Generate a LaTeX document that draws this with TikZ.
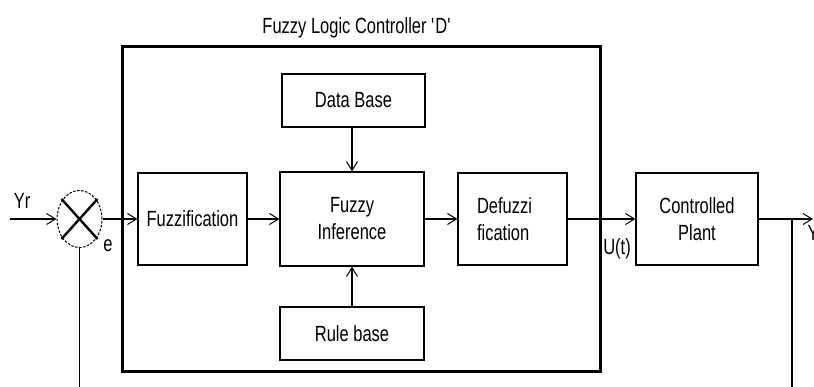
\documentclass[tikz,border=0pt]{standalone}
\usepackage{fontspec}
\setmainfont{Liberation Sans}[FakeStretch=0.75]
\usetikzlibrary{arrows.meta,shapes.geometric}
\begin{document}
\begin{tikzpicture}[x=1pt,y=-1pt,
  line width=1.1pt,
  txt/.style={font=\fontsize{22}{27}\selectfont},
  box/.style={draw, line width=1.1pt, inner sep=0pt, align=center, txt},
  lbl/.style={inner sep=0pt, txt},
  arr/.style={-{Straight Barb[length=9pt,width=11pt,line width=1pt]}},
]
\useasboundingbox (0,0) rectangle (814,387);
\fill[white] (0,0) rectangle (814,387);

% outer controller box
\node[draw, line width=3pt, minimum width=478pt, minimum height=324pt, inner sep=0pt] (flc) at (361,209) {};
\node[lbl] (title) at (357,28) {Fuzzy Logic Controller \textquotesingle D\textquotesingle};

% blocks
\node[box, minimum width=143pt, minimum height=53pt] (db) at (353.5,100.5) {Data Base};
\node[box, minimum width=144pt, minimum height=94pt] (fi) at (352,219) {Fuzzy\\Inference};
\node[box, minimum width=109pt, minimum height=92pt, align=left, inner xsep=19pt, text width=71pt] (df) at (512.5,219) {Defuzzi\\fication};
\node[box, minimum width=144pt, minimum height=53pt] (rb) at (352,333.5) {Rule base};
\node[box, minimum width=109pt, minimum height=92pt] (fz) at (192.5,219) {Fuzzification};
\node[box, minimum width=122pt, minimum height=92pt] (pl) at (697,219) {Controlled\\Plant};

% summing junction
\node[draw, ellipse, dashed, dash pattern=on 2.5pt off 1.5pt, line width=1pt, minimum width=45pt, minimum height=57pt, inner sep=0pt] (sum) at (79.5,219) {};
\draw[line width=2.4pt] (61.5,199) -- (97.5,239);
\draw[line width=2.4pt] (61.5,239) -- (97.5,199);

% coordinates
\coordinate (yrin) at (10,219);
\coordinate (outend) at (813,219);
\coordinate (tap) at (792,219);
\coordinate (fb1) at (79.5,392);
\coordinate (fb2) at (792,392);

% connectors
\draw[arr] (yrin) -- (sum.west);
\draw[arr] (sum.east) -- (fz.west);
\draw[arr] (fz.east) -- (fi.west);
\draw[arr] (fi.east) -- (df.west);
\draw[arr] (df.east) -- (pl.west);
\draw[arr] (pl.east) -- (outend);
\draw[arr] (db.south -| fi.north) -- (fi.north);
\draw[arr] (rb.north) -- (fi.south);
\draw (sum.south) -- (fb1);
\draw (tap) -- (fb2);

% labels
\node[lbl] (yr) at (22,201) {Yr};
\node[lbl] (e) at (108,246) {e};
\node[lbl] (ut) at (617,249) {U(t)};
\node[lbl, anchor=west] (y) at (807,233) {Y};
\end{tikzpicture}
\end{document}
